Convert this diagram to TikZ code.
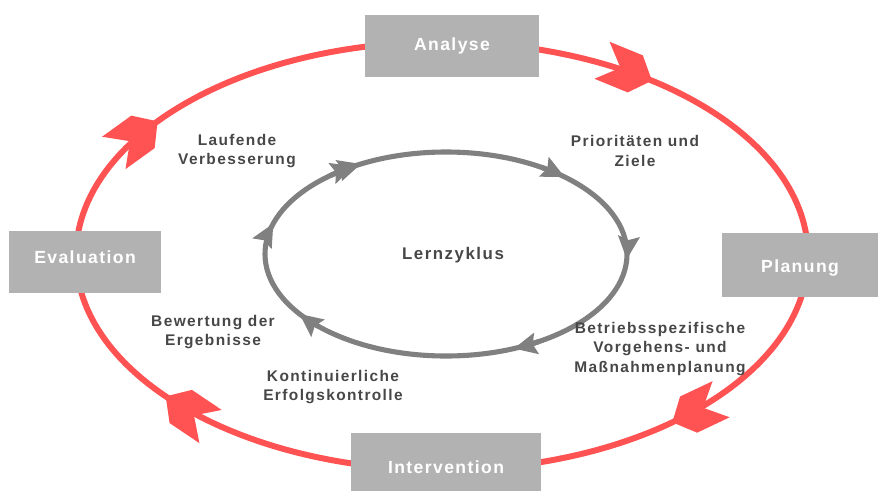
\documentclass[tikz,border=0pt]{standalone}
\usepackage{fontspec}
\usetikzlibrary{arrows.meta, decorations.markings}

\newfontfamily\labelfont{Liberation Sans}[LetterSpace=9]
\newfontfamily\boxfont{Liberation Sans}[LetterSpace=8]

\definecolor{cyclered}{HTML}{FF5252}
\definecolor{boxgray}{HTML}{B2B2B2}
\definecolor{ringgray}{HTML}{808080}
\definecolor{txtgray}{HTML}{474747}

\begin{document}
\begin{tikzpicture}[
        x=0.02cm, y=-0.02cm,
        box/.style={fill=boxgray, inner sep=0pt, text=white,
            font=\boxfont\bfseries\fontsize{10pt}{12pt}\selectfont},
        lbl/.style={text=txtgray, align=center,
            font=\labelfont\bfseries\fontsize{8.8pt}{11.2pt}\selectfont},
        outer/.style={draw=cyclered, line width=3.4pt},
        inner/.style={draw=ringgray, line width=2.9pt},
        redhead/.style={
            decoration={
                markings,
                mark=at position 1 with {
                    \fill[cyclered] (0,0) -- (-18,-20) -- (-54,-20) -- (-34,0)
                        -- (-54,20) -- (-18,20) -- cycle;
                }
            },
            decorate
        },
        graytip/.style={-{Stealth[length=13pt, width=12pt, inset=2pt]}}
    ]
        \useasboundingbox (0,0) rectangle (881,490);

        \coordinate (O) at (442, 256);
        \coordinate (I) at (446, 254);

        % outer cycle
        \draw[outer] (O) ellipse [x radius=366, y radius=214];
        \foreach \a [evaluate=\a as \b using \a-9] in {305, 51, 139, 219}
            \path[redhead] (O) ++(\b:366 and 214)
                arc[start angle=\b, end angle=\a, x radius=366, y radius=214];

        \node[box, minimum width=3.5cm, minimum height=1.24cm] (analyse) at (452, 46) {Analyse};
        \node[box, minimum width=3.12cm, minimum height=1.28cm, text height=11pt] (planung) at (800, 265) {Planung};
        \node[box, minimum width=3.8cm, minimum height=1.16cm, text height=13pt] (intervention) at (446, 462) {Intervention};
        \node[box, minimum width=3.04cm, minimum height=1.24cm, text depth=5.5pt] (evaluation) at (85, 262) {Evaluation};

        % inner cycle
        \draw[inner] (I) ellipse [x radius=181, y radius=102];
        \foreach \a [evaluate=\a as \b using \a-9] in {239.5, 242, 197.5, 311, 3, 68, 144}
            \draw[inner, graytip] (I) ++(\b:181 and 102)
                arc[start angle=\b, end angle=\a, x radius=181, y radius=102];

        \node[lbl, font=\labelfont\bfseries\fontsize{9.6pt}{12pt}\selectfont] (lernzyklus) at (453, 255) {Lernzyklus};
        \node[lbl] (ziele) at (635, 151) {Prioritäten und\\Ziele};
        \node[lbl] (massnahmen) at (660, 349) {Betriebsspezifische\\Vorgehens- und\\Maßnahmenplanung};
        \node[lbl] (kontrolle) at (333, 387) {Kontinuierliche\\Erfolgskontrolle};
        \node[lbl] (bewertung) at (213, 332) {Bewertung der\\Ergebnisse};
        \node[lbl] (verbesserung) at (237, 151) {Laufende\\Verbesserung};
    \end{tikzpicture}
\end{document}
